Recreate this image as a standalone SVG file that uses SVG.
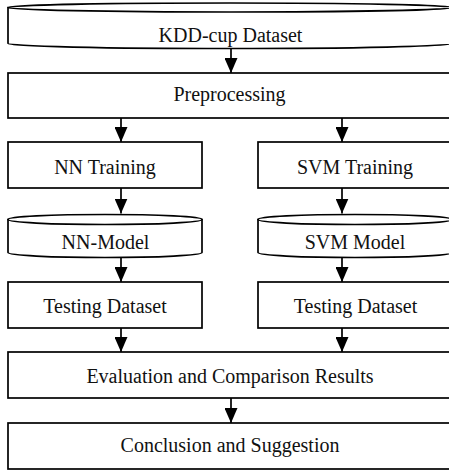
<svg xmlns="http://www.w3.org/2000/svg" width="449" height="470" viewBox="0 0 449 470">
  <style>
    .box { fill: #ffffff; stroke: #000000; stroke-width: 1.7; }
    .lbl { font-family: "Liberation Serif", "Times New Roman", serif; font-size: 20px; fill: #111111; text-anchor: middle; }
    .conn { stroke: #000000; stroke-width: 1.7; fill: none; marker-end: url(#head); }
  </style>
  <defs>
    <marker id="head" markerUnits="userSpaceOnUse" markerWidth="15" markerHeight="13" refX="15" refY="6.5" orient="auto">
      <path d="M0,0 L15,6.5 L0,13 z" fill="#000000"/>
    </marker>
  </defs>
  <rect width="449" height="470" fill="#ffffff"/>

  <g id="connectors">
    <line class="conn" x1="231" y1="48.5" x2="231" y2="73"/>
    <line class="conn" x1="121" y1="118" x2="121" y2="142"/>
    <line class="conn" x1="342" y1="118" x2="342" y2="142"/>
    <line class="conn" x1="121" y1="188" x2="121" y2="213.5"/>
    <line class="conn" x1="342" y1="188" x2="342" y2="213.5"/>
    <line class="conn" x1="121" y1="257.5" x2="121" y2="282"/>
    <line class="conn" x1="342" y1="257.5" x2="342" y2="282"/>
    <line class="conn" x1="121" y1="328" x2="121" y2="352"/>
    <line class="conn" x1="342" y1="328" x2="342" y2="352"/>
    <line class="conn" x1="231" y1="398" x2="231" y2="423"/>
  </g>

  <g id="kdd-dataset">
    <path class="box" d="M8,7.5 L8,43.5 A222,5 0 0 0 452,43.5 L452,7.5 Z"/>
    <ellipse class="box" cx="230" cy="7.5" rx="222" ry="4.5"/>
    <text class="lbl" x="230.5" y="41.5">KDD-cup Dataset</text>
  </g>

  <g id="preprocessing">
    <rect class="box" x="8" y="73" width="444" height="45"/>
    <text class="lbl" x="229.5" y="101">Preprocessing</text>
  </g>

  <g id="nn-training">
    <rect class="box" x="8" y="142" width="194" height="46"/>
    <text class="lbl" x="105" y="174">NN Training</text>
  </g>

  <g id="svm-training">
    <rect class="box" x="258" y="142" width="194" height="46"/>
    <text class="lbl" x="355" y="174">SVM Training</text>
  </g>

  <g id="nn-model">
    <path class="box" d="M8,219.5 L8,252.5 A97,5 0 0 0 202,252.5 L202,219.5 Z"/>
    <ellipse class="box" cx="105" cy="219.5" rx="97" ry="5"/>
    <text class="lbl" x="105.5" y="249">NN-Model</text>
  </g>

  <g id="svm-model">
    <path class="box" d="M258,219.5 L258,252.5 A97,5 0 0 0 452,252.5 L452,219.5 Z"/>
    <ellipse class="box" cx="355" cy="219.5" rx="97" ry="5"/>
    <text class="lbl" x="355" y="249">SVM Model</text>
  </g>

  <g id="nn-testing">
    <rect class="box" x="8" y="282" width="194" height="46"/>
    <text class="lbl" x="105" y="313">Testing Dataset</text>
  </g>

  <g id="svm-testing">
    <rect class="box" x="258" y="282" width="194" height="46"/>
    <text class="lbl" x="355.5" y="313">Testing Dataset</text>
  </g>

  <g id="evaluation">
    <rect class="box" x="8" y="352" width="444" height="46"/>
    <text class="lbl" x="230" y="383">Evaluation and Comparison Results</text>
  </g>

  <g id="conclusion">
    <rect class="box" x="8" y="423" width="444" height="46"/>
    <text class="lbl" x="230" y="451.5">Conclusion and Suggestion</text>
  </g>
</svg>
